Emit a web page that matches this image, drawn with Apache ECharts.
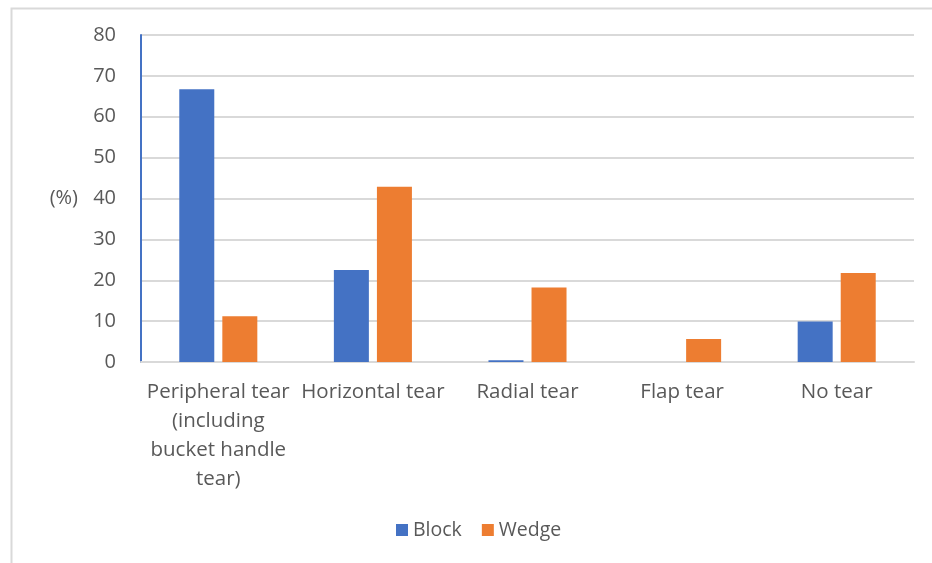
<!DOCTYPE html>
<html>
<head>
<meta charset="utf-8">
<script src="https://cdn.jsdelivr.net/npm/echarts@6/dist/echarts.min.js"></script>
<style>html,body{margin:0;padding:0;background:#fff;}#c{width:932px;height:563px;}</style>
</head>
<body>
<div id="c"></div>
<script>
const categories = ["Peripheral tear\n(including\nbucket handle\ntear)", "Horizontal tear", "Radial tear", "Flap tear", "No tear"];
const blockValues = [66.7, 22.5, 0.4, 0, 9.9];
const wedgeValues = [11.2, 42.9, 18.2, 5.6, 21.8];
const yTicks = { min: 0, max: 80, interval: 10 };
const seriesNames = ["Block", "Wedge"];

const chart = echarts.init(document.getElementById('c'), null, { renderer: 'canvas' });
const font = '"Open Sans", sans-serif';
chart.setOption({
  animation: false,
  textStyle: { fontFamily: font },
  graphic: [{
    type: 'rect', left: 9, top: 6, shape: { width: 1000, height: 1000 },
    style: { fill: 'none', stroke: '#d9d9d9', lineWidth: 2 }, z: -1
  }],
  grid: { left: 141, right: 18, top: 35, bottom: 201, containLabel: false },
  legend: {
    data: seriesNames, bottom: 18, left: 391,
    itemWidth: 12, itemHeight: 12, itemGap: 20, icon: 'rect',
    textStyle: { color: '#595959', fontSize: 19.5, fontFamily: font, padding: [0, 0, 0, 0] }
  },
  xAxis: {
    type: 'category', data: categories,
    axisLine: { show: true, lineStyle: { color: '#d9d9d9', width: 2 } },
    axisTick: { show: false },
    axisLabel: { color: '#595959', fontSize: 20.5, fontFamily: font, lineHeight: 29, margin: 16, interval: 0 }
  },
  yAxis: {
    type: 'value', min: yTicks.min, max: yTicks.max, interval: yTicks.interval,
    name: '(%)', nameLocation: 'middle', nameRotate: 0, nameGap: 63,
    nameTextStyle: { color: '#595959', fontSize: 20, fontFamily: font },
    axisLine: { show: true, lineStyle: { color: '#4472C4', width: 2 } },
    axisTick: { show: false },
    axisLabel: { color: '#595959', fontSize: 20, fontFamily: font, margin: 25 },
    splitLine: { lineStyle: { color: '#d9d9d9', width: 2 } }
  },
  series: [
    { name: seriesNames[0], type: 'bar', data: blockValues, barWidth: 35, barGap: '23%',
      itemStyle: { color: '#4472C4' } },
    { name: seriesNames[1], type: 'bar', data: wedgeValues, barWidth: 35, barGap: '23%',
      itemStyle: { color: '#ED7D31' } }
  ]
});
</script>
</body>
</html>
